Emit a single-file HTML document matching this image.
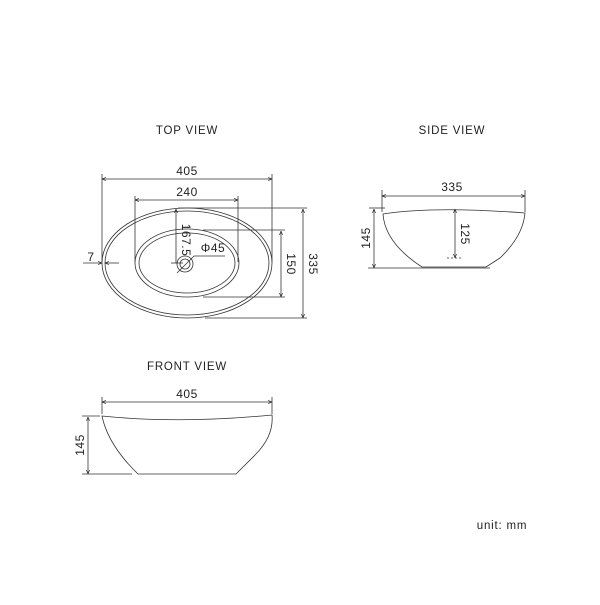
<!DOCTYPE html>
<html><head><style>
body{margin:0;background:#fff}
svg text{font-family:"Liberation Sans",sans-serif;fill:#222}
</style></head><body>
<svg width="600" height="600" viewBox="0 0 600 600" xmlns="http://www.w3.org/2000/svg">
<defs>
<marker id="a" viewBox="0 0 10 10" refX="10" refY="5" markerWidth="5" markerHeight="5" orient="auto-start-reverse"><path d="M0,1L10,5L0,9" fill="none" stroke="#222" stroke-width="1.5"/></marker>
</defs>
<g font-size="11.5" letter-spacing="0.8" text-anchor="middle">
<text x="187" y="134">TOP VIEW</text>
<text x="452" y="134">SIDE VIEW</text>
<text x="187" y="370">FRONT VIEW</text>
<text x="502" y="529">unit: mm</text>
</g>
<g fill="none" stroke="#333" stroke-width="0.8">
<ellipse cx="187" cy="263" rx="85" ry="55"/>
<ellipse cx="187" cy="263" rx="82" ry="52"/>
<ellipse cx="187" cy="263" rx="52" ry="34"/>
<ellipse cx="187" cy="263" rx="48" ry="30"/>
<circle cx="185" cy="264" r="8"/>
<circle cx="185" cy="264" r="5"/>
<line x1="102" y1="179" x2="272" y2="179" marker-start="url(#a)" marker-end="url(#a)"/>
<line x1="102" y1="174" x2="102" y2="262"/>
<line x1="272" y1="174" x2="272" y2="262"/>
<line x1="135" y1="200" x2="238" y2="200" marker-start="url(#a)" marker-end="url(#a)"/>
<line x1="135" y1="196" x2="135" y2="262"/>
<line x1="238" y1="196" x2="238" y2="262"/>
<line x1="83" y1="263" x2="102" y2="263" marker-end="url(#a)"/>
<line x1="105" y1="263" x2="119" y2="263" marker-start="url(#a)"/>
<line x1="176" y1="209" x2="176" y2="263" marker-start="url(#a)"/>
<line x1="171" y1="263" x2="183" y2="263"/>
<line x1="177" y1="273" x2="194" y2="256"/>
<line x1="194" y1="256" x2="225" y2="256"/>
<line x1="281" y1="231" x2="281" y2="297" marker-start="url(#a)" marker-end="url(#a)"/>
<line x1="203" y1="230" x2="285" y2="230"/>
<line x1="203" y1="297" x2="285" y2="297"/>
<line x1="303" y1="209" x2="303" y2="318" marker-start="url(#a)" marker-end="url(#a)"/>
<line x1="178" y1="208" x2="307" y2="208"/>
<line x1="205" y1="318" x2="307" y2="318"/>
<path d="M383,214 Q433,206 525,213 Q523,236 500,258 L486,267 L422,267 Q385,243 383,214 Z"/>
<line x1="382" y1="196" x2="525" y2="196" marker-start="url(#a)" marker-end="url(#a)"/>
<line x1="382" y1="190" x2="382" y2="212"/>
<line x1="525" y1="190" x2="525" y2="212"/>
<line x1="374" y1="209" x2="374" y2="268" marker-start="url(#a)" marker-end="url(#a)"/>
<line x1="369" y1="208" x2="385" y2="208"/>
<line x1="368" y1="268" x2="490" y2="268"/>
<line x1="455" y1="209" x2="455" y2="258" marker-start="url(#a)" marker-end="url(#a)"/>
<line x1="447" y1="258" x2="461" y2="258" stroke-dasharray="2,2"/>
<path d="M102,416 Q180,424 272,415 Q274,436 255,455 L236,474 L138,474 Q108,445 102,416 Z"/>
<line x1="102" y1="402" x2="272" y2="402" marker-start="url(#a)" marker-end="url(#a)"/>
<line x1="102" y1="397" x2="102" y2="414"/>
<line x1="272" y1="397" x2="272" y2="414"/>
<line x1="88" y1="417" x2="88" y2="474" marker-start="url(#a)" marker-end="url(#a)"/>
<line x1="82" y1="416" x2="100" y2="416"/>
<line x1="82" y1="474" x2="132" y2="474"/>
</g>
<g font-size="12" text-anchor="middle" letter-spacing="0.5">
<text x="187" y="175">405</text>
<text x="187" y="196">240</text>
<text x="91" y="261">7</text>
<text x="213" y="252">Φ45</text>
<text x="452" y="191">335</text>
<text x="187" y="398">405</text>
<text transform="translate(182,240) rotate(90)">167.5</text>
<text transform="translate(287,264) rotate(90)">150</text>
<text transform="translate(309,264) rotate(90)">335</text>
<text transform="translate(461,234) rotate(90)">125</text>
<text transform="translate(370,238) rotate(-90)">145</text>
<text transform="translate(84,445) rotate(-90)">145</text>
</g>
</svg>
</body></html>
